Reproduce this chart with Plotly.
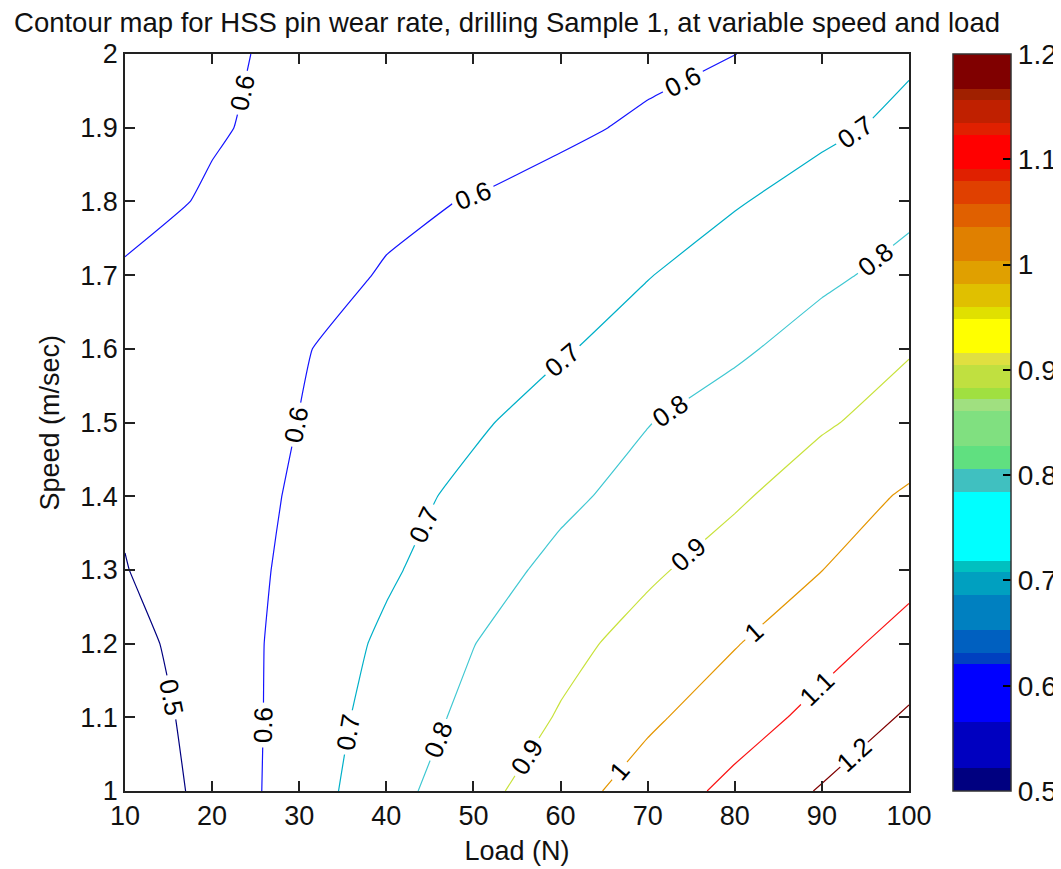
import math
import plotly.graph_objects as go

# ---------------- data ----------------
load = [10, 20, 30, 40, 50, 60, 70, 80, 90, 100]
speed = [1.0, 1.1, 1.2, 1.3, 1.4, 1.5, 1.6, 1.7, 1.8, 1.9, 2.0]

wear_s10 = [0.420, 0.535, 0.649, 0.762, 0.866, 0.959, 1.044, 1.126, 1.208, 1.290]
wear_s11 = [0.445, 0.540, 0.642, 0.740, 0.826, 0.908, 0.983, 1.055, 1.129, 1.213]
wear_s12 = [0.466, 0.551, 0.633, 0.718, 0.798, 0.871, 0.936, 0.995, 1.065, 1.136]
wear_s13 = [0.497, 0.558, 0.620, 0.686, 0.758, 0.825, 0.885, 0.942, 0.999, 1.070]
wear_s14 = [0.510, 0.556, 0.611, 0.667, 0.723, 0.780, 0.834, 0.887, 0.948, 1.013]
wear_s15 = [0.540, 0.565, 0.601, 0.644, 0.687, 0.740, 0.797, 0.844, 0.890, 0.937]
wear_s16 = [0.580, 0.575, 0.595, 0.628, 0.661, 0.692, 0.736, 0.785, 0.838, 0.894]
wear_s17 = [0.595, 0.585, 0.585, 0.603, 0.636, 0.666, 0.697, 0.739, 0.783, 0.827]
wear_s18 = [0.615, 0.595, 0.585, 0.592, 0.602, 0.635, 0.665, 0.694, 0.732, 0.780]
wear_s19 = [0.630, 0.604, 0.588, 0.575, 0.575, 0.582, 0.615, 0.650, 0.684, 0.718]
wear_s20 = [0.640, 0.612, 0.585, 0.570, 0.565, 0.570, 0.575, 0.599, 0.643, 0.690]

levels = [0.5, 0.6, 0.7, 0.8, 0.9, 1.0, 1.1, 1.2]

x_ticks = [10, 20, 30, 40, 50, 60, 70, 80, 90, 100]
y_ticks = [1.0, 1.1, 1.2, 1.3, 1.4, 1.5, 1.6, 1.7, 1.8, 1.9, 2.0]
y_ticktext = ["1", "1.1", "1.2", "1.3", "1.4", "1.5", "1.6", "1.7", "1.8", "1.9", "2"]
cb_ticks = [0.5, 0.6, 0.7, 0.8, 0.9, 1.0, 1.1, 1.2]
cb_ticktext = ["0.5", "0.6", "0.7", "0.8", "0.9", "1", "1.1", "1.2"]

# ---------------- styles ----------------
level_colors = ["rgb(0,0,128)", "rgb(20,20,255)", "rgb(0,176,200)", "rgb(64,200,210)",
                "rgb(200,226,60)", "rgb(228,150,0)", "rgb(250,20,20)", "rgb(128,0,0)"]
# how densely plotly may place labels on each level (more -> more labels)
label_density = [1, 72, 78, 70, 50, 70, 1, 1]

# colormap bands (bottom -> top), widths in 1/64 of the range
cmap_steps = [2, 4, 5, 1, 2, 3, 2, 1, 6, 2, 2, 3, 1, 1, 2, 1, 3, 1, 2, 2, 3, 2, 2, 1, 3, 1, 2, 1, 3]
cmap_colors = ["rgb(0,0,128)", "rgb(0,0,192)", "rgb(0,0,255)", "rgb(0,64,192)", "rgb(0,96,192)",
               "rgb(0,128,192)", "rgb(0,160,192)", "rgb(0,192,192)", "rgb(0,255,255)",
               "rgb(64,192,192)", "rgb(96,224,128)", "rgb(128,224,128)", "rgb(160,224,128)",
               "rgb(160,224,64)", "rgb(192,224,64)", "rgb(224,224,64)", "rgb(255,255,0)",
               "rgb(224,224,0)", "rgb(224,192,0)", "rgb(224,160,0)", "rgb(224,128,0)",
               "rgb(224,96,0)", "rgb(224,64,0)", "rgb(224,32,0)", "rgb(255,0,0)",
               "rgb(224,32,0)", "rgb(192,32,0)", "rgb(160,32,0)", "rgb(128,0,0)"]

FONT = "Liberation Sans, Arial, sans-serif"
OFF = 8                      # page body margin
W, H = 1061 - OFF, 869 - OFF
M_L, M_R, M_T, M_B = 125 - OFF, 152, 54 - OFF, 78
plot_w = W - M_L - M_R
plot_h = H - M_T - M_B

wear = [wear_s10, wear_s11, wear_s12, wear_s13, wear_s14, wear_s15,
        wear_s16, wear_s17, wear_s18, wear_s19, wear_s20]

# stepped colorscale
total = sum(cmap_steps)
colorscale = []
acc = 0
for n, c in zip(cmap_steps, cmap_colors):
    lo = acc / total
    acc += n
    hi = acc / total
    colorscale.append([lo, c])
    colorscale.append([hi, c])

fig = go.Figure()

for lv, col, dens in zip(levels, level_colors, label_density):
    fig.add_trace(go.Contour(
        x=load, y=speed, z=wear,
        autocontour=False,
        # extra (empty) levels far above the data only tune plotly's label spacing
        contours=dict(start=lv, end=lv + (dens - 1) * 1.0, size=1.0, coloring="lines",
                      showlabels=True,
                      labelfont=dict(family=FONT, size=26, color="black")),
        colorscale=[[0, col], [1, col]],
        line=dict(width=1.2, smoothing=0.3),
        showscale=False,
        hoverinfo="skip",
    ))

# the 1.2 contour is too short for plotly's automatic label: place it from the data
lv = levels[-1]
row0 = wear[0]
xb = None
for i in range(len(load) - 1):
    if (row0[i] - lv) * (row0[i + 1] - lv) <= 0:
        xb = load[i] + (lv - row0[i]) / (row0[i + 1] - row0[i]) * (load[i + 1] - load[i])
        break
col_last = [r[-1] for r in wear]
yr = None
for j in range(len(speed) - 1):
    if (col_last[j] - lv) * (col_last[j + 1] - lv) <= 0:
        yr = speed[j] + (lv - col_last[j]) / (col_last[j + 1] - col_last[j]) * (speed[j + 1] - speed[j])
        break
if xb is not None and yr is not None:
    t = 0.42
    lx = xb + t * (load[-1] - xb)
    ly = speed[0] + t * (yr - speed[0])
    dx_px = (load[-1] - xb) / (load[-1] - load[0]) * plot_w
    dy_px = (yr - speed[0]) / (speed[-1] - speed[0]) * plot_h
    ang = -math.degrees(math.atan2(dy_px, dx_px))
    fig.add_annotation(x=lx, y=ly, xref="x", yref="y", text="1.2", showarrow=False,
                       textangle=ang, bgcolor="white", borderpad=0,
                       font=dict(family=FONT, size=26, color="black"))

cb_x = (953 - OFF - M_L) / plot_w
fig.add_trace(go.Scatter(
    x=[load[0]], y=[speed[0]], mode="markers",
    marker=dict(size=0.1, opacity=0, color=[levels[0]], cmin=0.5, cmax=1.2,
                colorscale=colorscale, showscale=True,
                colorbar=dict(x=cb_x, xanchor="left", y=0.5, yanchor="middle",
                              len=1.0, lenmode="fraction", thickness=58, ypad=0, xpad=0,
                              outlinewidth=1.5, outlinecolor="#333",
                              tickvals=cb_ticks, ticktext=cb_ticktext,
                              ticks="inside", ticklen=8, tickcolor="black", tickwidth=1.5,
                              tickfont=dict(family=FONT, size=28, color="#111"))),
    hoverinfo="skip", showlegend=False,
))

# left-side ticks of the colorbar (MATLAB draws ticks on both sides)
for v in cb_ticks[1:-1]:
    yp = (v - 0.5) / 0.7
    fig.add_shape(type="line", xref="paper", yref="paper",
                  x0=cb_x, x1=cb_x + 8 / plot_w, y0=yp, y1=yp,
                  line=dict(color="black", width=1.5))

axis_common = dict(showline=True, linecolor="#222", linewidth=1.5, mirror="ticks",
                   ticks="inside", ticklen=10, tickwidth=1.5, tickcolor="#222",
                   showgrid=False, zeroline=False,
                   tickfont=dict(family=FONT, size=27, color="#111"))

fig.update_xaxes(range=[10, 100], tickvals=x_ticks,
                 title=dict(text="Load (N)", font=dict(family=FONT, size=27, color="#111"), standoff=11),
                 **axis_common)
fig.update_yaxes(range=[1, 2], tickvals=y_ticks, ticktext=y_ticktext, **axis_common)

# y-axis title placed like MATLAB's
fig.add_annotation(text="Speed (m/sec)", textangle=-90, showarrow=False,
                   xref="paper", yref="paper", x=(49 - OFF - M_L) / plot_w, y=0.5,
                   xanchor="center", yanchor="middle",
                   font=dict(family=FONT, size=27, color="#111"))

fig.update_layout(
    width=W, height=H,
    margin=dict(l=M_L, r=M_R, t=M_T, b=M_B, autoexpand=False),
    paper_bgcolor="white", plot_bgcolor="white",
    showlegend=False,
    title=dict(text="Contour map for HSS pin wear rate, drilling Sample 1, at variable speed and load",
               x=(507 - OFF) / W, xanchor="center", xref="container",
               y=1 - (22 - OFF) / H, yanchor="middle", yref="container",
               font=dict(family=FONT, size=27.5, color="#111")),
)

fig.write_html("out.html")
